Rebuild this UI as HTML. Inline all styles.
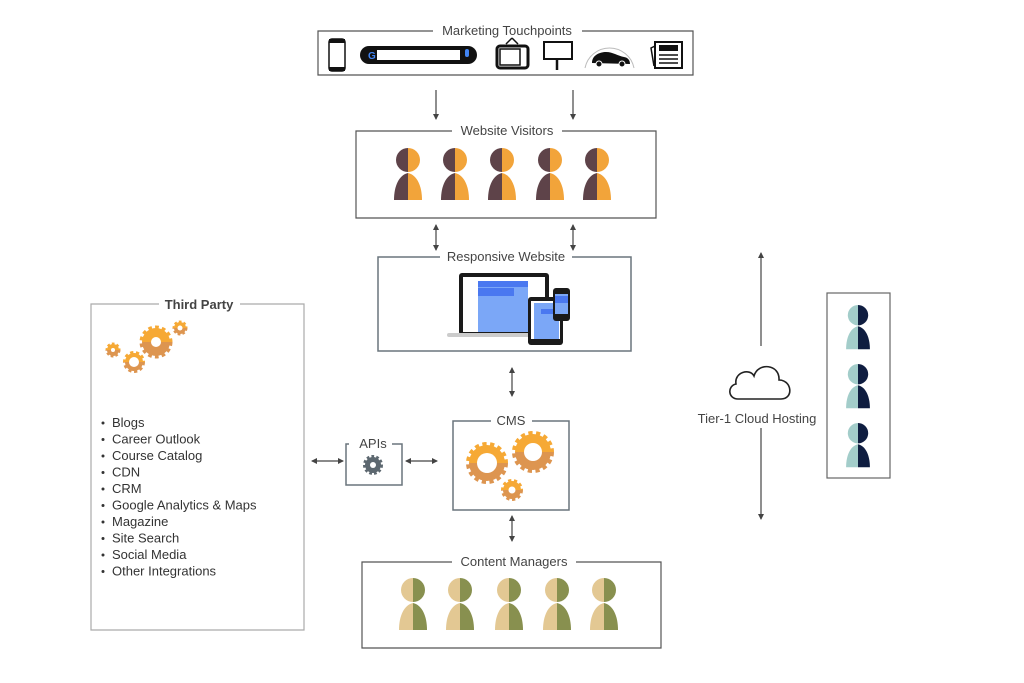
<!DOCTYPE html>
<html><head><meta charset="utf-8"><style>
html,body{margin:0;padding:0;background:#fff;}
svg{display:block;font-family:"Liberation Sans",sans-serif;}
</style></head><body>
<svg width="1024" height="683" viewBox="0 0 1024 683" xmlns="http://www.w3.org/2000/svg">
<defs>
<linearGradient id="og" x1="0" y1="0" x2="0" y2="1"><stop offset="0.5" stop-color="#f6a935"/><stop offset="0.5" stop-color="#dd9550"/></linearGradient>
<clipPath id="lh"><rect x="-20" y="-2" width="20" height="60"/></clipPath>
<clipPath id="rh"><rect x="0" y="-2" width="20" height="60"/></clipPath>
<g id="pshape"><circle cx="0" cy="12" r="12"/><path d="M-14,52 C-14,38 -9,27 0,25 C9,27 14,38 14,52 Z"/></g>
<g id="pv"><use href="#pshape" fill="#5e4349" clip-path="url(#lh)"/><use href="#pshape" fill="#f2a43a" clip-path="url(#rh)"/></g>
<g id="pc"><use href="#pshape" fill="#e3c893" clip-path="url(#lh)"/><use href="#pshape" fill="#88904f" clip-path="url(#rh)"/></g>
<g id="pn"><use href="#pshape" fill="#a3cdca" clip-path="url(#lh)"/><use href="#pshape" fill="#0f1d40" clip-path="url(#rh)"/></g>
<marker id="ah" markerWidth="6" markerHeight="6" refX="5" refY="3" orient="auto-start-reverse" markerUnits="userSpaceOnUse"><path d="M0,0 L6,3 L0,6 Z" fill="#444"/></marker>
</defs>

<g stroke="#555" stroke-width="1.2" fill="none">
<!-- boxes -->
<path d="M433,31 H318 V75 H693 V31 H582"/>
<path d="M452,131 H356 V218 H656 V131 H562"/>
<path d="M440,257 H378 V351 H631 V257 H572" stroke="#6a757d" stroke-width="1.5"/>
<path d="M349,444 H346 V485 H402 V444 H392" stroke="#6a757d" stroke-width="1.5"/>
<path d="M491,421 H453 V510 H569 V421 H532" stroke="#6a757d" stroke-width="1.5"/>
<path d="M452,562 H362 V648 H661 V562 H576"/>
<path d="M159,304 H91 V630 H304 V304 H240" stroke="#aaa"/>
<rect x="827" y="293" width="63" height="185" stroke="#666"/>
</g>

<g fill="#444" font-size="13" text-anchor="middle">
<text x="507" y="35">Marketing Touchpoints</text>
<text x="507" y="135">Website Visitors</text>
<text x="506" y="261">Responsive Website</text>
<text x="373" y="448">APIs</text>
<text x="511" y="425">CMS</text>
<text x="514" y="566">Content Managers</text>
<text x="199" y="309" font-weight="bold">Third Party</text>
<text x="757" y="423">Tier-1 Cloud Hosting</text>
</g>

<!-- arrows -->
<g stroke="#444" stroke-width="1.2">
<line x1="436" y1="90" x2="436" y2="119" marker-end="url(#ah)"/>
<line x1="573" y1="90" x2="573" y2="119" marker-end="url(#ah)"/>
<line x1="436" y1="225" x2="436" y2="250" marker-start="url(#ah)" marker-end="url(#ah)"/>
<line x1="573" y1="225" x2="573" y2="250" marker-start="url(#ah)" marker-end="url(#ah)"/>
<line x1="512" y1="368" x2="512" y2="396" marker-start="url(#ah)" marker-end="url(#ah)"/>
<line x1="512" y1="516" x2="512" y2="541" marker-start="url(#ah)" marker-end="url(#ah)"/>
<line x1="312" y1="461" x2="343" y2="461" marker-start="url(#ah)" marker-end="url(#ah)"/>
<line x1="406" y1="461" x2="437" y2="461" marker-start="url(#ah)" marker-end="url(#ah)"/>
<line x1="761" y1="346" x2="761" y2="253" marker-end="url(#ah)"/>
<line x1="761" y1="428" x2="761" y2="519" marker-end="url(#ah)"/>
</g>

<!-- cloud -->
<path d="M738,399 C728,399 727,386 736,384 C734,372 750,368 754,376 C758,362 780,364 779,380 C792,380 794,399 781,399 Z" fill="none" stroke="#222" stroke-width="1.6"/>

<!-- people -->
<use href="#pv" x="408" y="148"/><use href="#pv" x="455" y="148"/><use href="#pv" x="502" y="148"/><use href="#pv" x="550" y="148"/><use href="#pv" x="597" y="148"/>
<use href="#pc" x="413" y="578"/><use href="#pc" x="460" y="578"/><use href="#pc" x="509" y="578"/><use href="#pc" x="557" y="578"/><use href="#pc" x="604" y="578"/>
<use href="#pn" x="858" y="305" transform="translate(858,305) scale(0.85) translate(-858,-305)"/>
<use href="#pn" x="858" y="364" transform="translate(858,364) scale(0.85) translate(-858,-364)"/>
<use href="#pn" x="858" y="423" transform="translate(858,423) scale(0.85) translate(-858,-423)"/>

<!-- gears -->
<g>
<circle cx="487" cy="463" r="18" fill="url(#og)" stroke="url(#og)" stroke-width="6" stroke-dasharray="4 3.3"/>
<circle cx="487" cy="463" r="17" fill="url(#og)"/><circle cx="487" cy="463" r="10" fill="#fff"/>
<circle cx="533" cy="452" r="18" fill="url(#og)" stroke="url(#og)" stroke-width="6" stroke-dasharray="4 3.3"/>
<circle cx="533" cy="452" r="17" fill="url(#og)"/><circle cx="533" cy="452" r="9" fill="#fff"/>
<circle cx="512" cy="490" r="9" fill="url(#og)" stroke="url(#og)" stroke-width="4" stroke-dasharray="3 2.5"/>
<circle cx="512" cy="490" r="3.5" fill="#fff"/>

<circle cx="156" cy="342" r="14" fill="url(#og)" stroke="url(#og)" stroke-width="5" stroke-dasharray="3.5 3"/>
<circle cx="156" cy="342" r="5" fill="#fff"/>
<circle cx="134" cy="362" r="9" fill="url(#og)" stroke="url(#og)" stroke-width="4" stroke-dasharray="3 2.5"/>
<circle cx="134" cy="362" r="5" fill="#fff"/>
<circle cx="113" cy="350" r="6" fill="url(#og)" stroke="url(#og)" stroke-width="3" stroke-dasharray="2.5 2"/>
<circle cx="113" cy="350" r="2" fill="#fff"/>
<circle cx="180" cy="328" r="6" fill="url(#og)" stroke="url(#og)" stroke-width="3" stroke-dasharray="2.5 2"/>
<circle cx="180" cy="328" r="2.5" fill="#fff"/>

<circle cx="373" cy="465" r="8" fill="#5d6870" stroke="#5d6870" stroke-width="4" stroke-dasharray="2.5 2"/>
<circle cx="373" cy="465" r="3" fill="#fff"/>
</g>

<!-- third party list -->
<g font-size="13" fill="#333">
<text x="112" y="427">Blogs</text>
<text x="112" y="443.5">Career Outlook</text>
<text x="112" y="460">Course Catalog</text>
<text x="112" y="476.5">CDN</text>
<text x="112" y="493">CRM</text>
<text x="112" y="509.5">Google Analytics &amp; Maps</text>
<text x="112" y="526">Magazine</text>
<text x="112" y="542.5">Site Search</text>
<text x="112" y="559">Social Media</text>
<text x="112" y="575.5">Other Integrations</text>
</g>
<g fill="#333">
<circle cx="103" cy="423" r="1.5"/><circle cx="103" cy="439.5" r="1.5"/><circle cx="103" cy="456" r="1.5"/><circle cx="103" cy="472.5" r="1.5"/><circle cx="103" cy="489" r="1.5"/><circle cx="103" cy="505.5" r="1.5"/><circle cx="103" cy="522" r="1.5"/><circle cx="103" cy="538.5" r="1.5"/><circle cx="103" cy="555" r="1.5"/><circle cx="103" cy="571.5" r="1.5"/>
</g>

<!-- responsive devices -->
<rect x="459" y="273" width="90" height="62" rx="3" fill="#1a1a1a"/>
<rect x="463" y="277" width="82" height="55" fill="#fff"/>
<rect x="478" y="281" width="50" height="51" fill="#7ba7f7"/>
<rect x="478" y="281" width="50" height="6" fill="#4a78f0"/>
<rect x="478" y="288" width="36" height="8" fill="#4a78f0"/>
<rect x="447" y="333" width="90" height="4" rx="2" fill="#ccc"/>
<rect x="528" y="297" width="35" height="48" rx="3" fill="#1a1a1a"/>
<rect x="531" y="301" width="29" height="38" fill="#fff"/>
<rect x="534" y="303" width="25" height="36" fill="#7ba7f7"/>
<rect x="541" y="309" width="18" height="5" fill="#4a78f0"/>
<rect x="553" y="288" width="17" height="33" rx="3" fill="#1a1a1a"/>
<rect x="555" y="294" width="13" height="20" fill="#7ba7f7"/>
<rect x="555" y="296" width="13" height="7" fill="#4a78f0"/>

<!-- marketing icons -->
<rect x="329" y="39" width="16" height="32" rx="3" fill="#fff" stroke="#111" stroke-width="1.5"/>
<rect x="329" y="39" width="16" height="4" fill="#111"/><rect x="329" y="67" width="16" height="4" fill="#111"/>
<rect x="360" y="46" width="117" height="18" rx="9" fill="#111"/>
<rect x="377" y="50" width="83" height="10" fill="#fff"/>
<text x="368" y="59" font-size="10" font-weight="bold" fill="#4285f4">G</text>
<rect x="465" y="49" width="4" height="8" rx="2" fill="#4285f4"/>
<rect x="497" y="46" width="31" height="22" rx="3" fill="#fff" stroke="#111" stroke-width="3"/>
<rect x="500" y="49" width="20" height="16" fill="#fff" stroke="#111" stroke-width="1.5"/>
<path d="M506,44 L512,38 M518,44 L512,38" stroke="#111" stroke-width="1.5"/>
<rect x="544" y="42" width="28" height="17" fill="#fff" stroke="#111" stroke-width="2"/>
<line x1="557" y1="59" x2="557" y2="70" stroke="#111" stroke-width="2.5"/>
<path d="M585,68 A25,25 0 0 1 634,68" fill="none" stroke="#bbb" stroke-width="1"/>
<path d="M592,63 C592,55 600,52 606,52 C613,52 618,56 624,57 C630,58 630,63 630,64 Z" fill="#111"/>
<circle cx="599" cy="64" r="3" fill="#111" stroke="#fff" stroke-width="1"/><circle cx="622" cy="64" r="3" fill="#111" stroke="#fff" stroke-width="1"/>
<rect x="655" y="42" width="27" height="26" fill="#fff" stroke="#111" stroke-width="2"/>
<rect x="659" y="45" width="19" height="6" fill="#111"/>
<path d="M659,55 H678 M659,59 H678 M659,63 H678" stroke="#111" stroke-width="1.5"/>
<path d="M655,46 L651,48 L654,66" fill="none" stroke="#111" stroke-width="1.5"/>
</svg>
</body></html>
